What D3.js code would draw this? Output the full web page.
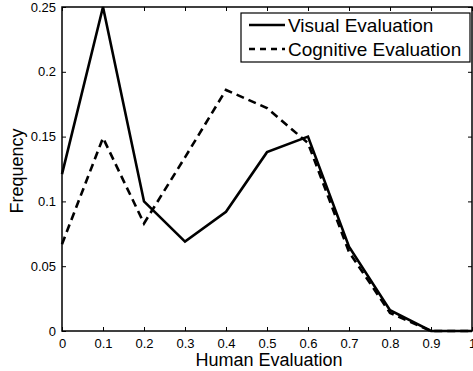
<!DOCTYPE html>
<html>
<head>
<meta charset="utf-8">
<script src="https://cdn.jsdelivr.net/npm/d3@7"></script>
<style>
  body { margin: 0; background: #fff; }
  text { font-family: "Liberation Sans", Arial, sans-serif; fill: #000; }
</style>
</head>
<body>
<script>
const WIDTH = 473;
const HEIGHT = 371;

// x positions of the histogram bins
const bins = [0, 0.1, 0.2, 0.3, 0.4, 0.5, 0.6, 0.7, 0.8, 0.9, 1.0];
const visual = [0.121, 0.25, 0.100, 0.069, 0.092, 0.138, 0.150, 0.065, 0.016, 0, 0];
const cognitive = [0.067, 0.149, 0.083, 0.134, 0.186, 0.172, 0.145, 0.061, 0.014, 0, 0];

const xTicks = [0, 0.1, 0.2, 0.3, 0.4, 0.5, 0.6, 0.7, 0.8, 0.9, 1];
const yTicks = [0, 0.05, 0.1, 0.15, 0.2, 0.25];
const seriesNames = ["Visual Evaluation", "Cognitive Evaluation"];

const margin = {top: 7, right: 1, bottom: 40, left: 62};

var svg = d3.select("body").append("svg")
  .attr("width", WIDTH).attr("height", HEIGHT);

var x = d3.scaleLinear().domain([0, 1]).range([margin.left, WIDTH - margin.right]);
var y = d3.scaleLinear().domain([0, 0.25]).range([HEIGHT - margin.bottom, margin.top]);

var fmt = function(d) { return String(d); };

// axes, ticks pointing inward like matlab
svg.append("g")
  .attr("transform", "translate(0," + y(0) + ")")
  .call(d3.axisBottom(x).tickValues(xTicks).tickSize(-4).tickPadding(8).tickFormat(fmt))
  .call(function(g) { g.select(".domain").remove(); });
svg.append("g")
  .attr("transform", "translate(0," + y(0.25) + ")")
  .call(d3.axisTop(x).tickValues(xTicks).tickSize(-4).tickFormat(""))
  .call(function(g) { g.select(".domain").remove(); });
svg.append("g")
  .attr("transform", "translate(" + x(0) + ",0)")
  .call(d3.axisLeft(y).tickValues(yTicks).tickSize(-4).tickPadding(6).tickFormat(fmt))
  .call(function(g) { g.select(".domain").remove(); });
svg.append("g")
  .attr("transform", "translate(" + x(1) + ",0)")
  .call(d3.axisRight(y).tickValues(yTicks).tickSize(-4).tickFormat(""))
  .call(function(g) { g.select(".domain").remove(); });

svg.selectAll(".tick text").attr("font-size", 13).attr("font-family", "Liberation Sans, Arial, sans-serif");
svg.selectAll(".tick line").attr("stroke", "#000");

// frame
svg.append("rect")
  .attr("x", x(0)).attr("y", y(0.25))
  .attr("width", x(1) - x(0)).attr("height", y(0) - y(0.25))
  .attr("fill", "none").attr("stroke", "#000").attr("stroke-width", 1.5);

var line = d3.line()
  .x(function(d, i) { return x(bins[i]); })
  .y(function(d) { return y(d); });

svg.append("path").datum(visual)
  .attr("d", line).attr("fill", "none")
  .attr("stroke", "#000").attr("stroke-width", 2.6);
svg.append("path").datum(cognitive)
  .attr("d", line).attr("fill", "none")
  .attr("stroke", "#000").attr("stroke-width", 2.6)
  .attr("stroke-dasharray", "8,5");

// axis labels
svg.append("text")
  .attr("x", (x(0) + x(1)) / 2 + 2).attr("y", 366)
  .attr("text-anchor", "middle").attr("font-size", 18)
  .text("Human Evaluation");
svg.append("text")
  .attr("transform", "translate(23," + (y(0.125) + 2) + ") rotate(-90)")
  .attr("text-anchor", "middle").attr("font-size", 18)
  .text("Frequency");

// legend
var legend = svg.append("g");
legend.append("rect")
  .attr("x", 241).attr("y", 13).attr("width", 229).attr("height", 49)
  .attr("fill", "#fff").attr("stroke", "#000").attr("stroke-width", 1.2);
var dashes = [null, "6,5"];
seriesNames.forEach(function(name, i) {
  var cy = 25 + i * 24;
  legend.append("line")
    .attr("x1", 249).attr("x2", 285).attr("y1", cy).attr("y2", cy)
    .attr("stroke", "#000").attr("stroke-width", 2.6)
    .attr("stroke-dasharray", dashes[i]);
  legend.append("text")
    .attr("x", 288).attr("y", cy + 7)
    .attr("font-size", 19)
    .text(name);
});
</script>
</body>
</html>
